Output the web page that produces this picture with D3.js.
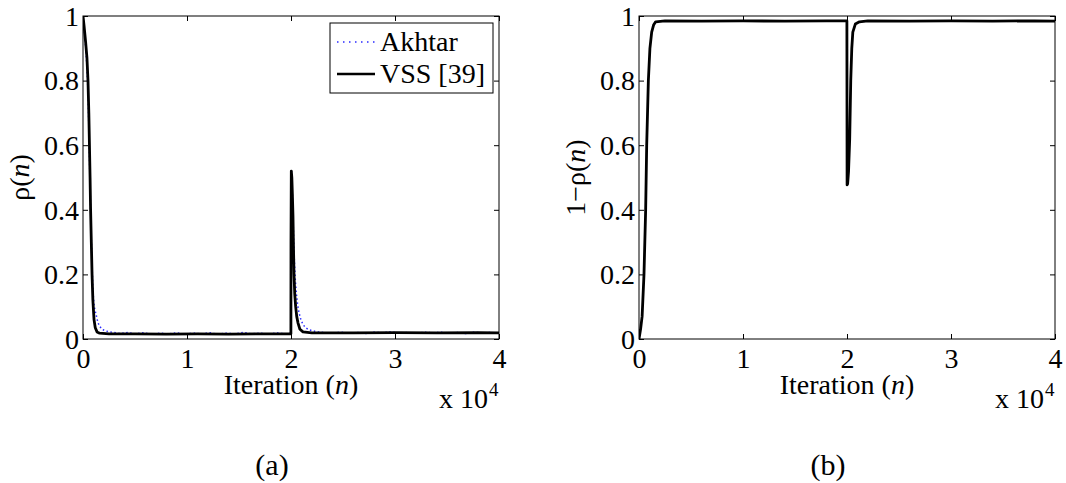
<!DOCTYPE html>
<html>
<head>
<meta charset="utf-8">
<script src="https://cdn.jsdelivr.net/npm/d3@7"></script>
<style>
body { margin: 0; background: #fff; }
svg { display: block; }
</style>
</head>
<body>
<svg id="svg_canvas" width="1066" height="483" font-family="Liberation Serif, Times New Roman, Times, DejaVu Serif, serif"></svg>
<script>
// tick values and labels
var xTicks = [0, 10000, 20000, 30000, 40000];
var xTickLabels = ["0", "1", "2", "3", "4"];
var yTicks = [0, 0.2, 0.4, 0.6, 0.8, 1];
var yTickLabels = ["0", "0.2", "0.4", "0.6", "0.8", "1"];
var legendLabels = ["Akhtar", "VSS [39]"];
var panelLabels = ["(a)", "(b)"];
var yAxisLabels = ["\u03c1(", "1\u2212\u03c1("];

// (a) rho(n), Akhtar [iteration, value]
var akhtarRho = [
	[0, 1.0], [80, 0.97], [200, 0.93], [330, 0.87], [440, 0.8], [530, 0.7], [600, 0.6],
	[660, 0.5], [720, 0.42], [790, 0.32], [860, 0.24], [930, 0.17], [1000, 0.13],
	[1080, 0.1], [1180, 0.086], [1260, 0.076], [1350, 0.062], [1450, 0.05], [1600, 0.04],
	[1800, 0.031], [2100, 0.026], [2500, 0.022], [3000, 0.02], [3600, 0.017], [4300, 0.02],
	[5000, 0.016], [5800, 0.019], [6600, 0.015], [7400, 0.018], [8200, 0.016], [9000, 0.019],
	[9800, 0.015], [10600, 0.018], [11400, 0.016], [12200, 0.019], [13000, 0.015],
	[13800, 0.018], [14600, 0.016], [15400, 0.02], [16200, 0.016], [17000, 0.018],
	[17800, 0.015], [18600, 0.019], [19400, 0.016], [19990, 0.017],
	[20000, 0.35], [20040, 0.52], [20080, 0.5], [20140, 0.44], [20200, 0.37], [20270, 0.29],
	[20340, 0.23], [20420, 0.18], [20520, 0.14], [20640, 0.105], [20780, 0.08],
	[20950, 0.06], [21150, 0.045], [21400, 0.035], [21700, 0.029], [22100, 0.025],
	[22600, 0.022], [23200, 0.02], [24000, 0.018], [24800, 0.021], [25600, 0.018],
	[26400, 0.02], [27200, 0.017], [28000, 0.021], [28800, 0.019], [29600, 0.022],
	[30400, 0.018], [31200, 0.02], [32000, 0.017], [32800, 0.021], [33600, 0.019],
	[34400, 0.021], [35200, 0.018], [36000, 0.02], [36800, 0.017], [37600, 0.021],
	[38400, 0.019], [39200, 0.02], [40000, 0.018]
];

// (a) rho(n), VSS [39]
var vssRho = [
	[0, 1.0], [100, 0.97], [250, 0.92], [380, 0.87], [480, 0.8], [560, 0.7], [620, 0.6],
	[680, 0.5], [730, 0.4], [800, 0.3], [870, 0.2], [950, 0.12], [1060, 0.06],
	[1180, 0.035], [1350, 0.022], [1600, 0.018], [2500, 0.016], [5000, 0.016],
	[8000, 0.015], [11000, 0.016], [14000, 0.015], [17000, 0.016], [19990, 0.016],
	[20000, 0.3], [20030, 0.52], [20080, 0.5], [20130, 0.45], [20190, 0.38], [20240, 0.28],
	[20290, 0.2], [20360, 0.14], [20450, 0.1], [20550, 0.07], [20670, 0.05], [20860, 0.03],
	[21150, 0.022], [22000, 0.019], [26000, 0.019], [30000, 0.02], [34000, 0.019],
	[38000, 0.02], [40000, 0.019]
];

// (b) 1 - rho(n), VSS [39]
var vssOneMinusRho = [
	[0, 0.0], [50, 0.01], [150, 0.03], [300, 0.07], [480, 0.2], [640, 0.4], [740, 0.6],
	[900, 0.8], [1050, 0.9], [1220, 0.95], [1400, 0.972], [1600, 0.982], [2500, 0.985],
	[6000, 0.984], [10000, 0.985], [14000, 0.984], [18000, 0.985], [19990, 0.985],
	[20010, 0.477], [20060, 0.48], [20150, 0.52], [20260, 0.62], [20360, 0.8],
	[20460, 0.9], [20560, 0.95], [20800, 0.975], [21200, 0.982], [22000, 0.985],
	[26000, 0.984], [30000, 0.985], [34000, 0.984], [38000, 0.985], [40000, 0.984]
];

var panelWidth = 416;
var panelHeight = 323;
var panelTop = 16;
var tickLen = 5;
var serif = "Liberation Serif, Times New Roman, Times, DejaVu Serif, serif";

var svgElement = d3.select("#svg_canvas");

var drawPanel = function(left, idx, series){
	var x = d3.scaleLinear().domain([0, 40000]).range([0, panelWidth]);
	var y = d3.scaleLinear().domain([0, 1]).range([panelHeight, 0]);

	var g = svgElement.append("g")
		.attr("transform", "translate(" + left + "," + panelTop + ")");

	g.append("clipPath").attr("id", "clip" + idx)
		.append("rect")
		.attr("width", panelWidth)
		.attr("height", panelHeight);

	var line = d3.line()
		.x(function(d){ return x(d[0]); })
		.y(function(d){ return y(d[1]); });

	var plot = g.append("g").attr("clip-path", "url(#clip" + idx + ")");
	for(var i = 0; i < series.length; i++){
		plot.append("path")
			.datum(series[i].data)
			.attr("d", line)
			.attr("fill", "none")
			.attr("stroke", series[i].color)
			.attr("stroke-width", series[i].width)
			.attr("stroke-dasharray", series[i].dash)
			.attr("stroke-linejoin", "round");
	}

	// inward ticks on all four sides
	g.append("g")
		.attr("transform", "translate(0," + panelHeight + ")")
		.call(d3.axisBottom(x).tickValues(xTicks)
			.tickFormat(function(d, i){ return xTickLabels[i]; })
			.tickSize(-tickLen).tickSizeOuter(0).tickPadding(9));
	var leftAxis = g.append("g")
		.call(d3.axisLeft(y).tickValues(yTicks)
			.tickFormat(function(d, i){ return yTickLabels[i]; })
			.tickSize(-tickLen).tickSizeOuter(0).tickPadding(4));
	g.append("g")
		.call(d3.axisTop(x).tickValues(xTicks).tickFormat("")
			.tickSize(-tickLen).tickSizeOuter(0));
	g.append("g")
		.attr("transform", "translate(" + panelWidth + ",0)")
		.call(d3.axisRight(y).tickValues(yTicks).tickFormat("")
			.tickSize(-tickLen).tickSizeOuter(0));

	g.selectAll(".domain").remove();
	g.selectAll("g").attr("font-family", serif);
	g.selectAll(".tick line").attr("stroke", "#000").attr("stroke-width", 1);
	g.selectAll(".tick text")
		.attr("font-family", serif)
		.attr("font-size", 28)
		.attr("fill", "#000");
	leftAxis.selectAll(".tick text").attr("dy", "0.33em");

	g.append("rect")
		.attr("width", panelWidth)
		.attr("height", panelHeight)
		.attr("fill", "none")
		.attr("stroke", "#000")
		.attr("stroke-width", 1);

	// x label
	var xl = g.append("text")
		.attr("x", panelWidth / 2)
		.attr("y", 378)
		.attr("text-anchor", "middle")
		.attr("font-family", serif)
		.attr("font-size", 28);
	xl.append("tspan").text("Iteration (");
	xl.append("tspan").attr("font-style", "italic").text("n");
	xl.append("tspan").text(")");

	// x 10^4 multiplier
	g.append("text")
		.attr("x", panelWidth - 11)
		.attr("y", 392)
		.attr("text-anchor", "end")
		.attr("font-family", serif)
		.attr("font-size", 28)
		.text("x 10");
	g.append("text")
		.attr("x", panelWidth - 10)
		.attr("y", 380)
		.attr("font-family", serif)
		.attr("font-size", 19)
		.text("4");

	// y label
	var yl = g.append("text")
		.attr("transform", "translate(-54," + (panelHeight / 2) + ") rotate(-90)")
		.attr("text-anchor", "middle")
		.attr("font-family", serif)
		.attr("font-size", 28);
	yl.append("tspan").text(yAxisLabels[idx]);
	yl.append("tspan").attr("font-style", "italic").text("n");
	yl.append("tspan").text(")");

	// panel caption
	svgElement.append("text")
		.attr("x", left + 189)
		.attr("y", 475)
		.attr("text-anchor", "middle")
		.attr("font-family", serif)
		.attr("font-size", 30)
		.text(panelLabels[idx]);

	return g;
};

var drawLegend = function(g){
	var lg = g.append("g").attr("transform", "translate(247,7)");
	lg.append("rect")
		.attr("width", 163)
		.attr("height", 70)
		.attr("fill", "#fff")
		.attr("stroke", "#000")
		.attr("stroke-width", 1);
	var styles = [
		{ color: "#2a2aff", width: 1.5, dash: "1.5,4.5" },
		{ color: "#000", width: 2.5, dash: null }
	];
	for(var i = 0; i < legendLabels.length; i++){
		var ly = 19 + i * 32;
		lg.append("line")
			.attr("x1", 7).attr("x2", 45)
			.attr("y1", ly).attr("y2", ly)
			.attr("stroke", styles[i].color)
			.attr("stroke-width", styles[i].width)
			.attr("stroke-dasharray", styles[i].dash);
		lg.append("text")
			.attr("x", 50)
			.attr("y", ly + 9)
			.attr("font-family", serif)
			.attr("font-size", 28)
			.text(legendLabels[i]);
	}
};

var panelA = drawPanel(83, 0, [
	{ data: akhtarRho, color: "#2a2aff", width: 1.5, dash: "1.5,2.5" },
	{ data: vssRho, color: "#000", width: 2.8, dash: null }
]);
drawLegend(panelA);

drawPanel(639, 1, [
	{ data: vssOneMinusRho, color: "#000", width: 2.8, dash: null }
]);
</script>
</body>
</html>
